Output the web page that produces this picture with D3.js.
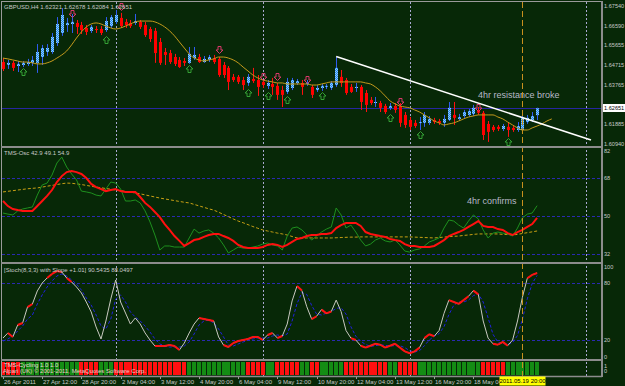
<!DOCTYPE html>
<html>
<head>
<meta charset="utf-8">
<script src="https://cdn.jsdelivr.net/npm/d3@7"></script>
<style>
  body { margin: 0; background: #072807; }
  svg { display: block; }
  text { font-family: "Liberation Sans", Arial, sans-serif; }
</style>
</head>
<body>
<svg width="625" height="386"></svg>
<script>
// ---- data ----
var symbolTitle = "GBPUSD,H4  1.62321  1.62678  1.62084  1.62651";
var tmsTitle = "TMS-Osc  42.9  49.1  54.9";
var stochTitle = "[Stoch(8,3,3) with Slope +1.01]  90.5435  88.0497";
var cycTitle = "TMS-Cycling  1.0  1.0";
var copyright = "Alpari (UK) \u00a9 2001-2011, MetaQuotes Software Corp.";

var priceTicks = [1.67540, 1.66590, 1.65655, 1.64715, 1.63765, 1.61885, 1.60940];
var lastPrice = 1.62651;

var timeTicks = ["26 Apr 2011", "27 Apr 12:00", "28 Apr 20:00", "2 May 04:00", "3 May 12:00",
  "4 May 20:00", "6 May 04:00", "9 May 12:00", "10 May 20:00", "12 May 04:00",
  "13 May 12:00", "16 May 20:00", "18 May 04:00"];
var timeTickBars = [0, 8, 16, 24, 32, 40, 48, 56, 64, 72, 80, 88, 96];
var cursorBar = 106, cursorLabel = "2011.05.19 20:00";
var separatorBars = [23, 53, 83, 119];

// open, high, low, close (H4 bars)
var candles = [
  [1.6486,1.6505,1.6443,1.6453],[1.6472,1.6496,1.6453,1.6482],[1.6482,1.6491,1.6443,1.6458],
  [1.6467,1.6491,1.6438,1.6477],[1.6472,1.6491,1.6462,1.6482],[1.6477,1.6501,1.6467,1.6486],
  [1.6482,1.6515,1.6467,1.6496],[1.6482,1.6572,1.6434,1.6534],[1.6510,1.6568,1.6472,1.6553],
  [1.6534,1.6572,1.6515,1.6553],[1.6534,1.6625,1.6525,1.6606],[1.6577,1.6701,1.6563,1.6668],
  [1.6625,1.6744,1.6611,1.6711],[1.6663,1.6697,1.6630,1.6673],[1.6668,1.6716,1.6625,1.6678],
  [1.6673,1.6687,1.6620,1.6654],[1.6663,1.6678,1.6620,1.6639],[1.6649,1.6663,1.6615,1.6630],
  [1.6635,1.6663,1.6625,1.6654],[1.6644,1.6658,1.6625,1.6639],[1.6644,1.6658,1.6615,1.6625],
  [1.6639,1.6701,1.6630,1.6682],[1.6658,1.6711,1.6649,1.6701],[1.6678,1.6735,1.6668,1.6711],
  [1.6697,1.6721,1.6649,1.6658],[1.6678,1.6692,1.6649,1.6663],[1.6673,1.6687,1.6649,1.6658],
  [1.6673,1.6716,1.6663,1.6682],[1.6678,1.6687,1.6644,1.6654],[1.6663,1.6678,1.6606,1.6615],
  [1.6644,1.6654,1.6582,1.6596],[1.6635,1.6649,1.6482,1.6529],[1.6582,1.6601,1.6472,1.6482],
  [1.6534,1.6553,1.6472,1.6520],[1.6529,1.6544,1.6477,1.6486],[1.6510,1.6525,1.6467,1.6477],
  [1.6496,1.6510,1.6458,1.6462],[1.6491,1.6505,1.6467,1.6482],[1.6482,1.6558,1.6477,1.6525],
  [1.6505,1.6558,1.6496,1.6520],[1.6510,1.6525,1.6482,1.6486],[1.6486,1.6515,1.6482,1.6501],
  [1.6496,1.6520,1.6486,1.6510],[1.6505,1.6520,1.6477,1.6486],[1.6501,1.6510,1.6415,1.6424],
  [1.6472,1.6486,1.6410,1.6424],[1.6458,1.6467,1.6352,1.6391],[1.6415,1.6429,1.6391,1.6400],
  [1.6415,1.6424,1.6381,1.6391],[1.6400,1.6415,1.6352,1.6376],[1.6386,1.6429,1.6372,1.6415],
  [1.6405,1.6458,1.6386,1.6395],[1.6400,1.6424,1.6324,1.6367],[1.6391,1.6400,1.6362,1.6376],
  [1.6372,1.6400,1.6357,1.6386],[1.6381,1.6410,1.6329,1.6367],[1.6372,1.6386,1.6305,1.6329],
  [1.6352,1.6372,1.6271,1.6329],[1.6343,1.6410,1.6333,1.6391],[1.6362,1.6410,1.6352,1.6400],
  [1.6386,1.6405,1.6376,1.6395],[1.6386,1.6400,1.6329,1.6367],[1.6381,1.6400,1.6372,1.6386],
  [1.6367,1.6376,1.6314,1.6329],[1.6352,1.6376,1.6343,1.6362],[1.6362,1.6381,1.6348,1.6372],
  [1.6367,1.6381,1.6357,1.6372],[1.6362,1.6395,1.6352,1.6386],[1.6376,1.6510,1.6367,1.6458],
  [1.6415,1.6448,1.6367,1.6386],[1.6400,1.6410,1.6329,1.6338],[1.6367,1.6381,1.6338,1.6343],
  [1.6362,1.6386,1.6343,1.6367],[1.6367,1.6376,1.6257,1.6295],[1.6338,1.6352,1.6247,1.6281],
  [1.6305,1.6319,1.6281,1.6290],[1.6290,1.6319,1.6271,1.6295],[1.6290,1.6300,1.6247,1.6267],
  [1.6276,1.6286,1.6238,1.6247],[1.6267,1.6290,1.6257,1.6276],[1.6276,1.6290,1.6243,1.6257],
  [1.6276,1.6290,1.6176,1.6195],[1.6233,1.6247,1.6171,1.6185],[1.6209,1.6223,1.6161,1.6176],
  [1.6195,1.6209,1.6171,1.6180],[1.6195,1.6223,1.6161,1.6199],[1.6195,1.6247,1.6176,1.6233],
  [1.6195,1.6228,1.6185,1.6214],[1.6209,1.6219,1.6190,1.6199],[1.6204,1.6214,1.6185,1.6195],
  [1.6195,1.6233,1.6176,1.6214],[1.6209,1.6295,1.6204,1.6267],[1.6233,1.6295,1.6185,1.6219],
  [1.6214,1.6238,1.6204,1.6223],[1.6228,1.6257,1.6219,1.6247],[1.6233,1.6262,1.6223,1.6252],
  [1.6238,1.6281,1.6228,1.6267],[1.6257,1.6271,1.6233,1.6243],[1.6243,1.6252,1.6113,1.6137],
  [1.6190,1.6204,1.6104,1.6152],[1.6176,1.6185,1.6152,1.6161],[1.6176,1.6185,1.6156,1.6166],
  [1.6166,1.6190,1.6156,1.6180],[1.6176,1.6195,1.6128,1.6161],[1.6171,1.6180,1.6152,1.6161],
  [1.6161,1.6199,1.6152,1.6180],[1.6161,1.6228,1.6156,1.6219],[1.6199,1.6233,1.6190,1.6219],
  [1.6209,1.6247,1.6199,1.6228],[1.62321,1.62678,1.62084,1.62651]
];

// moving average (drawn 3 bars past the last candle)
var maLine = [
  1.6505,1.6501,1.6496,1.6491,1.6486,1.6486,1.6482,1.6477,1.6477,1.6482,
  1.6491,1.6505,1.6520,1.6539,1.6568,1.6601,1.6630,1.6654,1.6668,1.6673,
  1.6668,1.6658,1.6649,1.6644,1.6649,1.6658,1.6668,1.6678,1.6682,1.6682,
  1.6682,1.6678,1.6668,1.6654,1.6635,1.6611,1.6582,1.6553,1.6525,1.6505,
  1.6496,1.6491,1.6496,1.6501,1.6510,1.6510,1.6505,1.6496,1.6482,1.6462,
  1.6443,1.6424,1.6410,1.6400,1.6395,1.6391,1.6386,1.6386,1.6381,1.6381,
  1.6381,1.6381,1.6381,1.6376,1.6376,1.6381,1.6386,1.6391,1.6391,1.6391,
  1.6391,1.6391,1.6391,1.6391,1.6386,1.6381,1.6367,1.6348,1.6324,1.6300,
  1.6286,1.6276,1.6271,1.6267,1.6257,1.6247,1.6233,1.6219,1.6204,1.6195,
  1.6185,1.6190,1.6195,1.6204,1.6214,1.6223,1.6228,1.6233,1.6233,1.6233,
  1.6233,1.6223,1.6214,1.6199,1.6185,1.6171,1.6161,1.6161,1.6171,1.6180,
  1.6190,1.6204,1.6214
];

var upArrows = [[4,1.6458],[21,1.6611],[38,1.6472],[50,1.6357],[54,1.6343],[58,1.6324],
  [65,1.6343],[79,1.6238],[85,1.6156],[103,1.6123]];
var downArrows = [[14,1.6701],[24,1.6735],[44,1.6529],[53,1.6400],[56,1.6400],[62,1.6386],
  [81,1.6281],[97,1.6252]];
var trendLine = [[68, 1.6512], [120, 1.6113]];

var tmsMain = [
  57.1,54.7,53.3,52.8,52.4,52.4,52.4,54.7,57.1,59.5,
  62.3,66.1,68.9,70.8,71.3,70.8,69.9,68.0,65.2,63.7,
  62.8,61.8,62.3,62.8,61.8,61.4,61.4,61.4,59.0,56.2,
  54.3,51.9,49.5,46.2,43.4,40.5,38.2,35.8,37.2,38.6,
  39.1,40.1,41.0,41.5,41.5,40.5,39.6,38.2,36.3,35.3,
  34.8,34.8,34.8,35.3,36.3,36.7,36.3,35.3,36.3,37.7,
  39.1,39.6,40.5,41.0,41.0,41.5,41.5,41.9,44.3,45.7,
  46.7,46.7,46.7,45.3,42.4,41.5,41.0,40.5,40.1,39.1,
  38.6,38.2,36.7,35.8,35.8,35.3,35.3,35.3,35.8,37.2,
  38.6,40.5,41.5,42.4,43.4,44.8,46.2,47.6,45.3,44.8,
  44.8,43.8,43.4,41.9,41.0,42.4,43.4,44.8,46.2,49.1
];
var tmsFast = [
  51.4,50.9,50.5,52.4,53.3,53.8,54.3,59.9,64.7,65.6,
  69.4,75.1,77.9,73.2,69.9,67.1,61.8,61.4,60.9,59.9,
  59.5,62.8,66.1,65.6,62.8,57.1,57.1,57.6,56.2,52.4,
  47.2,41.0,33.9,35.8,35.8,35.3,35.3,35.3,39.6,43.8,
  41.9,42.9,43.4,41.9,39.6,36.3,32.5,33.9,35.3,34.8,
  34.8,35.3,35.8,36.7,37.2,36.3,35.8,33.9,40.5,44.3,
  44.8,43.4,41.0,38.6,40.5,42.4,43.8,44.8,53.8,50.5,
  44.3,45.7,42.4,38.6,35.8,36.7,38.6,39.6,38.2,37.7,
  38.6,36.3,33.4,32.9,33.9,34.4,35.8,37.7,38.6,39.6,
  44.3,48.1,47.6,45.7,44.3,47.6,50.5,48.6,43.4,39.6,
  41.9,42.4,41.9,41.5,40.5,44.3,49.1,50.9,51.4,54.9
];
var tmsSlow = [
  61.4,61.7,62.0,62.3,62.6,62.9,63.1,63.3,63.7,64.1,
  64.5,64.9,65.3,65.6,65.5,65.2,64.9,64.5,64.1,63.7,
  63.4,63.0,62.7,62.3,62.0,61.6,61.3,60.9,60.5,60.0,
  59.5,59.0,58.5,58.1,57.7,57.3,56.9,56.5,56.2,55.5,
  54.8,54.1,53.4,52.8,51.8,50.7,49.7,48.6,47.6,46.8,
  45.9,45.0,44.2,43.4,42.9,42.4,41.9,41.5,41.0,40.3,
  39.6,39.6,39.6,39.6,39.6,39.6,39.6,39.6,39.7,39.8,
  39.9,40.0,40.0,40.1,40.1,40.1,40.1,40.1,40.1,40.1,
  40.1,40.1,40.1,40.1,40.0,39.9,39.8,39.7,39.6,39.8,
  40.0,40.2,40.4,40.5,40.8,41.0,41.3,41.5,41.5,41.5,
  41.5,41.5,41.3,41.2,41.0,41.3,41.7,42.1,42.5,42.9
];
var tmsLevels = [68, 50, 32];
var tmsTicks = [82, 68, 50, 32];

var stochMain = [
  22.1,27.4,23.2,35.8,37.9,54.7,57.9,71.6,80.0,85.3,
  89.5,92.6,91.6,85.3,81.1,75.8,69.5,60.0,49.5,33.7,
  21.1,40.0,63.2,83.2,60.0,48.4,36.8,43.2,36.8,27.4,
  20.0,13.7,13.7,13.7,14.7,13.7,9.5,16.8,27.4,36.8,
  43.2,42.1,41.1,40.0,23.2,14.7,12.6,16.8,18.9,20.0,
  21.1,23.2,23.2,20.0,25.3,27.4,22.1,24.2,36.8,61.1,
  76.8,72.0,55.0,42.0,45.0,52.0,48.0,50.0,62.0,50.0,
  30.0,22.0,20.0,14.0,12.0,14.0,16.0,15.0,12.0,14.0,
  16.0,12.0,8.0,6.0,8.0,12.0,22.0,26.0,24.0,30.0,
  48.0,62.0,60.0,58.0,62.0,66.0,72.0,68.0,40.0,22.0,
  16.0,15.0,18.0,14.0,20.0,40.0,65.0,85.0,88.6,90.5
];
var stochSignal = [
  18.9,21.1,24.2,29.5,34.7,42.1,46.3,57.9,67.4,75.8,
  82.1,87.4,89.5,87.4,83.2,78.9,72.6,64.2,56.8,46.3,
  34.7,31.6,42.1,63.2,67.4,60.0,49.5,44.2,40.0,34.7,
  28.4,21.1,15.8,13.7,12.6,12.6,12.6,13.7,17.9,26.3,
  35.8,40.0,41.1,37.9,31.6,23.2,14.7,13.7,15.8,17.9,
  20.0,21.1,22.1,22.1,22.1,24.2,25.3,24.2,26.3,40.0,
  58.2,70.0,67.9,56.3,47.3,46.3,48.3,50.0,53.3,54.0,
  47.3,34.0,24.0,18.7,15.3,13.3,14.0,15.0,14.3,13.7,
  14.0,14.0,12.0,8.7,7.3,8.7,14.0,20.0,24.0,26.7,
  34.0,46.7,56.7,60.0,60.0,62.0,66.7,68.7,60.0,43.3,
  26.0,17.7,16.3,15.7,17.3,24.7,41.7,63.3,79.5,88.0
];
var stochLevels = [80, 20];
var stochTicks = [100, 80, 20, 0];

// 1 = green, 0 = red
var cycleUp = [
  0,0,0,0,1,1,1,1,1,1,
  1,1,1,1,1,1,0,0,0,0,
  1,1,1,0,0,0,0,0,0,0,
  0,0,0,0,0,0,0,0,1,1,
  1,1,1,1,1,1,1,1,1,1,
  0,0,0,0,1,1,0,0,0,0,
  0,1,1,0,0,1,1,1,1,1,
  0,0,0,0,0,0,0,0,0,1,
  1,0,0,0,0,1,1,1,1,1,
  1,1,1,1,1,1,1,1,0,0,
  0,0,0,1,1,1,1,1,1,1
];

// ---- layout ----
var svg = d3.select("svg");
var plotLeft = 2, plotRight = 601;
var panels = {
  main: { top: 2, bottom: 146 },
  tms: { top: 148, bottom: 262 },
  stoch: { top: 264, bottom: 359 },
  cyc: { top: 361, bottom: 375 }
};

var bg = "#072807", gridBlue = "#2a2ab0", labelGray = "#c8c8c8";

var x = d3.scaleLinear().domain([0, 109]).range([3, 537.1]);
var px = i => Math.round(x(i));
var yPrice = d3.scaleLinear().domain([1.60940, 1.67540]).range([144, 6]);
var yTms = d3.scaleLinear().domain([32, 68]).range([254, 178]);
var yStoch = d3.scaleLinear().domain([0, 100]).range([359, 264]);

svg.append("rect").attr("width", 625).attr("height", 386).attr("fill", bg);

var defs = svg.append("defs");
Object.keys(panels).forEach(function(k) {
  defs.append("clipPath").attr("id", "clip-" + k)
    .append("rect")
      .attr("x", plotLeft).attr("y", panels[k].top)
      .attr("width", plotRight - plotLeft).attr("height", panels[k].bottom - panels[k].top);
});

// dithered fill for bull candles
var dots = defs.append("pattern").attr("id", "bull")
  .attr("width", 2).attr("height", 2).attr("patternUnits", "userSpaceOnUse");
dots.append("rect").attr("width", 2).attr("height", 2).attr("fill", "#2484ea");
dots.append("rect").attr("width", 1).attr("height", 1).attr("fill", "#8ccaff");
dots.append("rect").attr("x", 1).attr("y", 1).attr("width", 1).attr("height", 1).attr("fill", "#8ccaff");

function panel(k) {
  return svg.append("g").attr("clip-path", "url(#clip-" + k + ")");
}

// week separators (all panels)
svg.append("g").selectAll("line")
  .data(separatorBars)
  .enter().append("line")
    .attr("x1", d => px(d) + 0.5).attr("x2", d => px(d) + 0.5)
    .attr("y1", 2).attr("y2", 376)
    .attr("stroke", "#a8a8d0")
    .attr("stroke-dasharray", "2,2");

// ---- main panel ----
var gMain = panel("main");

gMain.append("line")
  .attr("x1", plotLeft).attr("x2", plotRight)
  .attr("y1", Math.round(yPrice(lastPrice)) + 0.5).attr("y2", Math.round(yPrice(lastPrice)) + 0.5)
  .attr("stroke", "#2626a0");

var candle = gMain.append("g").selectAll("g")
  .data(candles)
  .enter().append("g");

candle.append("line")
  .attr("x1", (d, i) => px(i) + 0.5).attr("x2", (d, i) => px(i) + 0.5)
  .attr("y1", d => yPrice(d[1])).attr("y2", d => yPrice(d[2]))
  .attr("stroke", d => d[3] >= d[0] ? "#2f5cf0" : "#ff1010");

candle.append("rect")
  .attr("x", (d, i) => px(i) - 1)
  .attr("width", 3)
  .attr("y", d => yPrice(Math.max(d[0], d[3])))
  .attr("height", d => Math.max(1, Math.abs(yPrice(d[0]) - yPrice(d[3]))))
  .attr("fill", d => d[3] >= d[0] ? "url(#bull)" : "#ff0000");

gMain.append("path")
  .datum(maLine)
  .attr("fill", "none")
  .attr("stroke", "#c49a1c")
  .attr("d", d3.line().x((d, i) => x(i)).y(d => yPrice(d)).curve(d3.curveMonotoneX));

var upShape = "M0,0 L3.5,3.5 L1.5,3.5 L1.5,7 L-1.5,7 L-1.5,3.5 L-3.5,3.5 Z";
var downShape = "M0,0 L3.5,-3.5 L1.5,-3.5 L1.5,-7 L-1.5,-7 L-1.5,-3.5 L-3.5,-3.5 Z";

gMain.append("g").selectAll("path")
  .data(upArrows)
  .enter().append("path")
    .attr("transform", d => `translate(${px(d[0]) + 0.5}, ${Math.round(yPrice(d[1])) + 0.5})`)
    .attr("d", upShape)
    .attr("fill", "none")
    .attr("stroke", "#34a034");

gMain.append("g").selectAll("path")
  .data(downArrows)
  .enter().append("path")
    .attr("transform", d => `translate(${px(d[0]) + 0.5}, ${Math.round(yPrice(d[1])) + 0.5})`)
    .attr("d", downShape)
    .attr("fill", "none")
    .attr("stroke", "#d8386a");

gMain.append("line")
  .attr("x1", x(trendLine[0][0])).attr("y1", yPrice(trendLine[0][1]))
  .attr("x2", x(trendLine[1][0])).attr("y2", yPrice(trendLine[1][1]))
  .attr("stroke", "#ffffff")
  .attr("stroke-width", 1.6);

gMain.append("text")
  .attr("x", 478).attr("y", 98)
  .attr("font-size", 9)
  .attr("fill", "#b8b8c8")
  .text("4hr resistance broke");

// ---- TMS oscillator panel ----
var gTms = panel("tms");

gTms.append("g").selectAll("line")
  .data(tmsLevels)
  .enter().append("line")
    .attr("x1", plotLeft).attr("x2", plotRight)
    .attr("y1", d => Math.round(yTms(d)) + 0.5).attr("y2", d => Math.round(yTms(d)) + 0.5)
    .attr("stroke", gridBlue)
    .attr("stroke-dasharray", "3,2");

var tmsLine = d3.line().x((d, i) => x(i)).y(d => yTms(d));

gTms.append("path").datum(tmsSlow)
  .attr("fill", "none").attr("stroke", "#c8a014")
  .attr("stroke-dasharray", "3,2")
  .attr("d", tmsLine);

gTms.append("path").datum(tmsFast)
  .attr("fill", "none").attr("stroke", "#1e901e")
  .attr("d", tmsLine);

gTms.append("path").datum(tmsMain)
  .attr("fill", "none").attr("stroke", "#ff1010")
  .attr("stroke-width", 2)
  .attr("d", tmsLine);

gTms.append("text")
  .attr("x", 467).attr("y", 204)
  .attr("font-size", 9)
  .attr("fill", "#b8b8c8")
  .text("4hr confirms");

// ---- stochastic panel ----
var gStoch = panel("stoch");

gStoch.append("g").selectAll("line")
  .data(stochLevels)
  .enter().append("line")
    .attr("x1", plotLeft).attr("x2", plotRight)
    .attr("y1", d => Math.round(yStoch(d)) + 0.5).attr("y2", d => Math.round(yStoch(d)) + 0.5)
    .attr("stroke", gridBlue)
    .attr("stroke-dasharray", "3,2");

var stochLine = d3.line().x((d, i) => x(i)).y(d => yStoch(d));

gStoch.append("path").datum(stochSignal)
  .attr("fill", "none").attr("stroke", "#2020e0")
  .attr("stroke-dasharray", "3,2")
  .attr("d", stochLine);

gStoch.append("path").datum(stochMain)
  .attr("fill", "none").attr("stroke", "#c8c8c0")
  .attr("d", stochLine);

// flat stretches (small slope) are drawn red
var flat = d3.range(1, stochMain.length)
  .filter(i => Math.abs(stochMain[i] - stochMain[i - 1]) < 5);

gStoch.append("g").selectAll("line")
  .data(flat)
  .enter().append("line")
    .attr("x1", i => x(i - 1)).attr("y1", i => yStoch(stochMain[i - 1]))
    .attr("x2", i => x(i)).attr("y2", i => yStoch(stochMain[i]))
    .attr("stroke", "#ff1010")
    .attr("stroke-width", 2);

// ---- cycle histogram ----
var gCyc = panel("cyc");

gCyc.selectAll("rect")
  .data(cycleUp)
  .enter().append("rect")
    .attr("x", (d, i) => px(i) - 2)
    .attr("width", 4)
    .attr("y", panels.cyc.top + 1)
    .attr("height", panels.cyc.bottom - panels.cyc.top - 1)
    .attr("fill", d => d ? "#148c14" : "#ff1010");

// cursor line
svg.append("line")
  .attr("x1", px(cursorBar) + 0.5).attr("x2", px(cursorBar) + 0.5)
  .attr("y1", 2).attr("y2", 376)
  .attr("stroke", "#c8901e")
  .attr("stroke-dasharray", "6,3");

// ---- frames ----
var frame = svg.append("g").attr("stroke", "#8c8c8c");
frame.append("rect")
  .attr("x", 1.5).attr("y", 1.5).attr("width", 600).attr("height", 375)
  .attr("fill", "none").attr("stroke", "#9a9a9a").attr("stroke-width", 1);
[147, 263, 360].forEach(function(yy) {
  frame.append("line").attr("x1", 1).attr("x2", 602).attr("y1", yy).attr("y2", yy).attr("stroke-width", 2);
});
frame.append("line").attr("x1", 1).attr("x2", 602).attr("y1", 376.5).attr("y2", 376.5).attr("stroke-width", 1.5);
frame.append("line").attr("x1", 602).attr("x2", 602).attr("y1", 1).attr("y2", 377).attr("stroke-width", 2);

// ---- labels ----
var labels = svg.append("g").attr("font-size", 6).attr("fill", labelGray);

labels.append("text").attr("x", 4).attr("y", 9).text(symbolTitle);
labels.append("text").attr("x", 4).attr("y", 155).text(tmsTitle);
labels.append("text").attr("x", 4).attr("y", 272).text(stochTitle);
labels.append("text").attr("x", 4).attr("y", 367).attr("fill", "#e8d8d8").text(cycTitle);
labels.append("text").attr("x", 3).attr("y", 373).attr("fill", "#f0c8c8").text(copyright);

var rightAxis = labels.append("g").attr("transform", "translate(604, 0)").attr("font-size", 5.6);

function clampY(y, p) { return Math.max(p.top + 3, Math.min(p.bottom - 2, y)); }

rightAxis.selectAll("text.price")
  .data(priceTicks)
  .enter().append("text")
    .attr("class", "price")
    .attr("y", d => clampY(yPrice(d), panels.main))
    .attr("dy", "0.35em")
    .text(d => d.toFixed(5));

rightAxis.selectAll("text.tms")
  .data(tmsTicks)
  .enter().append("text")
    .attr("class", "tms")
    .attr("y", d => clampY(yTms(d), panels.tms))
    .attr("dy", "0.35em")
    .text(d => d);

rightAxis.selectAll("text.stoch")
  .data(stochTicks)
  .enter().append("text")
    .attr("class", "stoch")
    .attr("y", d => clampY(yStoch(d), panels.stoch))
    .attr("dy", "0.35em")
    .text(d => d);

rightAxis.append("text").attr("y", 366).attr("dy", "0.35em").text("1");
rightAxis.append("text").attr("y", 371.5).attr("dy", "0.35em").text("0");

var bid = svg.append("g").attr("transform", `translate(603, ${Math.round(yPrice(lastPrice))})`);
bid.append("rect").attr("x", 0).attr("y", -4).attr("width", 22).attr("height", 8).attr("fill", "#ffffff");
bid.append("text").attr("x", 1).attr("dy", "0.35em").attr("font-size", 5.6).attr("fill", "#000").text(lastPrice.toFixed(5));

// time axis
var timeAxis = svg.append("g");
timeAxis.selectAll("line")
  .data(timeTickBars)
  .enter().append("line")
    .attr("x1", d => px(d) + 0.5).attr("x2", d => px(d) + 0.5)
    .attr("y1", 377).attr("y2", 379)
    .attr("stroke", "#9a9a9a");

timeAxis.selectAll("text")
  .data(timeTicks)
  .enter().append("text")
    .attr("x", (d, i) => px(timeTickBars[i]) + 1)
    .attr("y", 384)
    .attr("font-size", 6)
    .attr("fill", labelGray)
    .text(d => d);

var cur = svg.append("g").attr("transform", `translate(${px(cursorBar) + 0.5}, 381)`);
cur.append("rect").attr("x", -23).attr("y", -4.5).attr("width", 46).attr("height", 9).attr("fill", "#ffff00");
cur.append("text").attr("text-anchor", "middle").attr("dy", "0.35em")
  .attr("font-size", 6).attr("fill", "#000").text(cursorLabel);
</script>
</body>
</html>
